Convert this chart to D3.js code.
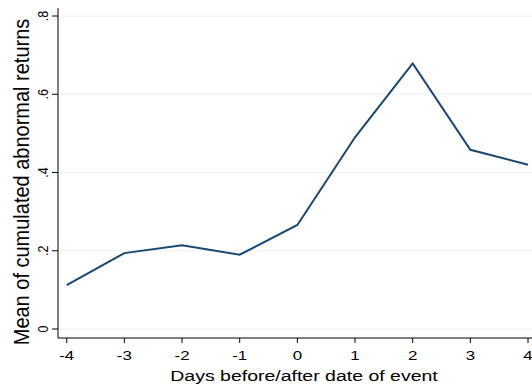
<!DOCTYPE html>
<html>
<head>
<meta charset="utf-8">
<script src="https://cdn.jsdelivr.net/npm/d3@7"></script>
<style>
  body { margin: 0; background: #fff; }
  text { font-family: "Liberation Sans", Arial, sans-serif; fill: #000; }
</style>
</head>
<body>
<div id="chart"></div>
<script>
// data
const days = [-4, -3, -2, -1, 0, 1, 2, 3, 4];
const meanCar = [0.112, 0.194, 0.214, 0.190, 0.266, 0.490, 0.679, 0.458, 0.420];
const yTicks = [0, 0.2, 0.4, 0.6, 0.8];
const yTickLabels = ["0", ".2", ".4", ".6", ".8"];

const width = 532, height = 387;
const axisX = 58, axisY = 338;

const svg = d3.select("#chart").append("svg")
    .attr("width", width)
    .attr("height", height);

const x = d3.scaleLinear().domain([-4, 4]).range([66.7, 528]);
const y = d3.scaleLinear().domain([0, 0.8]).range([329, 16]);

// grid lines
svg.append("g")
    .selectAll("line")
    .data(yTicks)
    .enter().append("line")
    .attr("x1", axisX).attr("x2", width)
    .attr("y1", d => y(d)).attr("y2", d => y(d))
    .attr("stroke", "#eaf2f3")
    .attr("stroke-width", 1);

// y axis
svg.append("line")
    .attr("x1", axisX).attr("x2", axisX)
    .attr("y1", 8).attr("y2", axisY)
    .attr("stroke", "#000").attr("stroke-width", 1);

svg.append("g")
    .selectAll("line")
    .data(yTicks)
    .enter().append("line")
    .attr("x1", axisX - 6).attr("x2", axisX)
    .attr("y1", d => y(d)).attr("y2", d => y(d))
    .attr("stroke", "#000");

// the picture is stretched sideways, so rotated texts get thicker
svg.append("g")
    .selectAll("text")
    .data(yTicks)
    .enter().append("text")
    .attr("transform", d => `translate(48, ${y(d)}) rotate(-90) scale(1, 1.15)`)
    .attr("text-anchor", "middle")
    .style("font-size", "12.5px")
    .text((d, i) => yTickLabels[i]);

svg.append("text")
    .attr("transform", `translate(29, 182) rotate(-90) scale(1, 1.08)`)
    .attr("text-anchor", "middle")
    .style("font-size", "20px")
    .text("Mean of cumulated abnormal returns");

// x axis
svg.append("line")
    .attr("x1", axisX).attr("x2", width)
    .attr("y1", axisY).attr("y2", axisY)
    .attr("stroke", "#000").attr("stroke-width", 1);

svg.append("g")
    .selectAll("line")
    .data(days)
    .enter().append("line")
    .attr("x1", d => x(d)).attr("x2", d => x(d))
    .attr("y1", axisY).attr("y2", axisY + 5)
    .attr("stroke", "#000");

svg.append("g")
    .selectAll("text")
    .data(days)
    .enter().append("text")
    .attr("transform", d => `translate(${x(d)}, 360) scale(1.3, 1)`)
    .attr("text-anchor", "middle")
    .style("font-size", "13px")
    .text(d => d);

svg.append("text")
    .attr("transform", `translate(304, 381) scale(1.3, 1)`)
    .attr("text-anchor", "middle")
    .style("font-size", "15px")
    .text("Days before/after date of event");

// series line
const line = d3.line()
    .x((d, i) => x(days[i]))
    .y(d => y(d));

svg.append("path")
    .datum(meanCar)
    .attr("d", line)
    .attr("fill", "none")
    .attr("stroke", "#1a476f")
    .attr("stroke-width", 2)
    .attr("stroke-linejoin", "miter");
</script>
</body>
</html>
